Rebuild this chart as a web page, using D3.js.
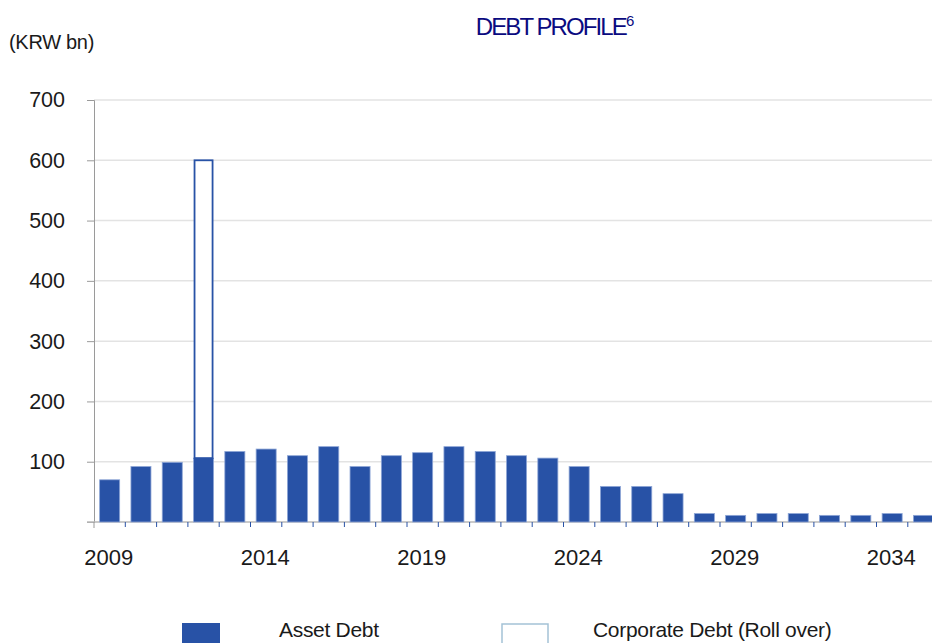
<!DOCTYPE html>
<html>
<head>
<meta charset="utf-8">
<script src="https://cdn.jsdelivr.net/npm/d3@7"></script>
<style>
  body { margin: 0; background: #fff; }
  svg { display: block; font-family: "Liberation Sans", Arial, sans-serif; }
</style>
</head>
<body>
<svg id="chart"></svg>
<script>
// data
const years = d3.range(2009, 2036).map(String);
const assetDebt = [70, 92, 99, 106, 117, 121, 110, 125, 92, 110, 115, 125, 117, 110,
                   106, 92, 59, 59, 47, 14, 11, 14, 14, 11, 11, 14, 11];
const corporateDebt = [0, 0, 0, 494, 0, 0, 0, 0, 0, 0, 0, 0, 0, 0,
                       0, 0, 0, 0, 0, 0, 0, 0, 0, 0, 0, 0, 0];
const yTicks = [100, 200, 300, 400, 500, 600, 700];
const xLabels = ["2009", "2014", "2019", "2024", "2029", "2034"];

const W = 932, H = 643;
const margin = {top: 100, left: 94, bottom: 121};
const blue = "#2852a6";

const svg = d3.select("#chart").attr("width", W).attr("height", H);

const rows = years.map((y, i) => ({year: y, asset: assetDebt[i], corp: corporateDebt[i]}));

const x = d3.scaleBand()
    .domain(years)
    .range([margin.left, margin.left + 31.3 * years.length])
    .paddingInner(0.36)
    .paddingOuter(0.18);

const y = d3.scaleLinear()
    .domain([0, 700])
    .range([H - margin.bottom, margin.top]);

// gridlines
svg.append("g")
  .selectAll("line")
  .data(yTicks)
  .join("line")
    .attr("x1", margin.left)
    .attr("x2", W)
    .attr("y1", d => y(d))
    .attr("y2", d => y(d))
    .attr("stroke", "#e3e3e3")
    .attr("stroke-width", 1.5);

// y axis
const yAxis = svg.append("g")
    .attr("transform", `translate(${margin.left},0)`)
    .call(d3.axisLeft(y).tickValues([0].concat(yTicks)).tickSize(7).tickPadding(22)
        .tickFormat(d => d === 0 ? "" : d));
yAxis.select(".domain").attr("stroke", "#9a9a9a");
yAxis.selectAll(".tick line").attr("stroke", "#9a9a9a");
yAxis.selectAll("text")
    .attr("font-size", 21.5)
    .attr("fill", "#1a1a1a");

// x baseline
svg.append("line")
    .attr("x1", margin.left - 7).attr("x2", W)
    .attr("y1", y(0)).attr("y2", y(0))
    .attr("stroke", "#b8b8b8").attr("stroke-width", 1.5);

// x tick marks between bands
const step = x.step();
svg.append("g")
  .selectAll("line")
  .data(years.slice(1))
  .join("line")
    .attr("x1", d => x(d) - x.paddingInner() * step / 2)
    .attr("x2", d => x(d) - x.paddingInner() * step / 2)
    .attr("y1", y(0))
    .attr("y2", y(0) + 5)
    .attr("stroke", blue)
    .attr("stroke-width", 1);
svg.append("line")
    .attr("x1", margin.left).attr("x2", margin.left)
    .attr("y1", y(0)).attr("y2", y(0) + 6)
    .attr("stroke", "#9a9a9a");

// x labels
svg.append("g")
  .selectAll("text")
  .data(xLabels)
  .join("text")
    .attr("x", d => x(d) + x.bandwidth() / 2 - 1)
    .attr("y", 565)
    .attr("text-anchor", "middle")
    .attr("font-size", 22)
    .attr("fill", "#1a1a1a")
    .text(d => d);

// asset debt bars
svg.append("g")
  .selectAll("rect")
  .data(rows)
  .join("rect")
    .attr("x", d => x(d.year))
    .attr("y", d => y(d.asset))
    .attr("width", x.bandwidth())
    .attr("height", d => y(0) - y(d.asset))
    .attr("fill", blue)
    .attr("stroke", "#8ea6d6")
    .attr("stroke-width", 0.8);

// corporate debt (roll over), stacked on top
svg.append("g")
  .selectAll("rect")
  .data(rows.filter(d => d.corp > 0))
  .join("rect")
    .attr("x", d => x(d.year) + 1)
    .attr("y", d => y(d.asset + d.corp))
    .attr("width", x.bandwidth() - 2)
    .attr("height", d => y(d.asset) - y(d.asset + d.corp))
    .attr("fill", "#fff")
    .attr("stroke", blue)
    .attr("stroke-width", 1.8);

// unit label
svg.append("text")
    .attr("x", 9).attr("y", 49)
    .attr("font-size", 20)
    .attr("fill", "#1a1a1a")
    .attr("letter-spacing", -0.3)
    .text("(KRW bn)");

// title
const title = svg.append("text")
    .attr("x", 555).attr("y", 35)
    .attr("text-anchor", "middle")
    .attr("font-size", 24)
    .attr("fill", "#0a0a80")
    .attr("letter-spacing", -1.9);
title.append("tspan").text("DEBT PROFILE");
title.append("tspan").attr("font-size", 15).attr("dy", -9).attr("letter-spacing", 0).text("6");

// legend
const legend = svg.append("g");
legend.append("rect")
    .attr("x", 182).attr("y", 623).attr("width", 38).attr("height", 22)
    .attr("fill", blue);
legend.append("text")
    .attr("x", 279).attr("y", 637)
    .attr("font-size", 21).attr("fill", "#1a1a1a").attr("letter-spacing", -0.3)
    .text("Asset Debt");
legend.append("rect")
    .attr("x", 502).attr("y", 624).attr("width", 46).attr("height", 22)
    .attr("fill", "#fff").attr("stroke", "#a4c2d6").attr("stroke-width", 1.5);
legend.append("text")
    .attr("x", 593).attr("y", 637)
    .attr("font-size", 21).attr("fill", "#1a1a1a").attr("letter-spacing", -0.3)
    .text("Corporate Debt (Roll over)");
</script>
</body>
</html>
